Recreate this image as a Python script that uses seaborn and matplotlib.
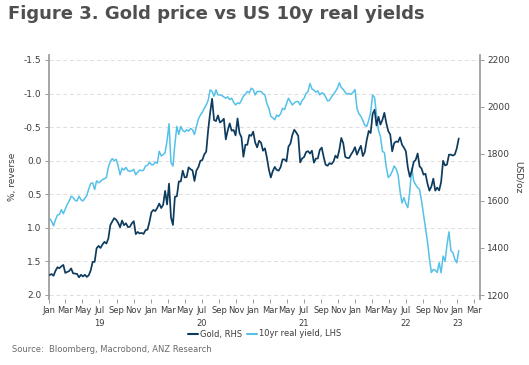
import numpy as np
import pandas as pd
import seaborn as sns
import matplotlib.pyplot as plt
import matplotlib.dates as mdates
from matplotlib.lines import Line2D

# weekly closes, USD/oz
gold_2019 = [1285, 1289, 1282, 1303, 1318, 1314, 1322, 1328, 1294, 1298, 1302, 1313, 1292,
             1291, 1290, 1275, 1286, 1279, 1286, 1277, 1284, 1305, 1341, 1341, 1399, 1409,
             1400, 1415, 1426, 1419, 1440, 1497, 1513, 1527, 1520, 1507, 1488, 1517, 1497,
             1505, 1489, 1490, 1505, 1514, 1459, 1468, 1462, 1464, 1460, 1476, 1478, 1511]
gold_2020 = [1552, 1562, 1557, 1571, 1589, 1570, 1584, 1643, 1585, 1674, 1530, 1498, 1618,
             1620, 1683, 1683, 1729, 1700, 1702, 1743, 1735, 1730, 1685, 1730, 1744, 1771,
             1774, 1798, 1810, 1902, 1975, 2035, 1944, 1940, 1964, 1934, 1940, 1950, 1862,
             1900, 1930, 1899, 1902, 1879, 1951, 1889, 1871, 1788, 1839, 1839, 1881, 1877]
gold_2021 = [1895, 1849, 1828, 1856, 1848, 1814, 1824, 1784, 1734, 1700, 1727, 1745, 1732,
             1729, 1744, 1777, 1777, 1768, 1831, 1844, 1881, 1903, 1891, 1877, 1764, 1781,
             1787, 1808, 1812, 1802, 1814, 1763, 1780, 1781, 1817, 1827, 1787, 1754, 1750,
             1761, 1757, 1767, 1793, 1783, 1818, 1868, 1846, 1788, 1783, 1783, 1798, 1811, 1829]
gold_2022 = [1797, 1817, 1835, 1791, 1808, 1859, 1898, 1889, 1970, 1988, 1921, 1958, 1925,
             1945, 1975, 1931, 1897, 1883, 1811, 1846, 1853, 1851, 1871, 1840, 1827, 1811,
             1742, 1703, 1727, 1766, 1775, 1802, 1747, 1738, 1712, 1716, 1675, 1644, 1661,
             1695, 1644, 1657, 1645, 1681, 1771, 1751, 1755, 1797, 1797, 1793, 1798, 1824]
gold_2023 = [1866]

# US 10y real yield, %
ry_2019 = [0.86, 0.90, 0.97, 0.88, 0.81, 0.80, 0.73, 0.79, 0.72, 0.65, 0.60, 0.53, 0.55,
           0.59, 0.60, 0.53, 0.58, 0.60, 0.56, 0.52, 0.42, 0.34, 0.33, 0.43, 0.30, 0.33,
           0.31, 0.28, 0.27, 0.25, 0.10, 0.01, -0.03, 0.00, -0.02, 0.08, 0.21, 0.11, 0.14,
           0.10, 0.15, 0.16, 0.15, 0.13, 0.21, 0.17, 0.14, 0.15, 0.14, 0.08, 0.07, 0.02]
ry_2020 = [0.06, 0.06, 0.02, 0.04, -0.14, -0.07, -0.09, -0.12, -0.30, -0.55, 0.03, 0.08, -0.25,
           -0.51, -0.39, -0.51, -0.45, -0.43, -0.46, -0.44, -0.48, -0.46, -0.39, -0.51, -0.62,
           -0.68, -0.72, -0.78, -0.83, -0.90, -1.055, -1.03, -0.96, -1.055, -0.98, -0.98, -0.97,
           -0.95, -0.93, -0.95, -0.91, -0.93, -0.87, -0.83, -0.86, -0.85, -0.90, -0.96, -0.99,
           -1.03, -1.01, -1.08]
ry_2021 = [-1.06, -0.98, -1.03, -1.03, -1.03, -1.00, -0.98, -0.85, -0.78, -0.66, -0.64, -0.61,
           -0.68, -0.66, -0.70, -0.78, -0.76, -0.85, -0.93, -0.88, -0.83, -0.86, -0.88, -0.88,
           -0.83, -0.90, -0.93, -1.00, -1.03, -1.15, -1.07, -1.05, -1.02, -1.04, -0.98, -1.01,
           -1.00, -0.95, -0.89, -0.90, -0.95, -0.99, -1.03, -1.08, -1.16, -1.09, -1.06, -1.02,
           -0.99, -1.00, -0.99, -1.02, -1.06]
ry_2022 = [-0.78, -0.70, -0.66, -0.60, -0.53, -0.51, -0.60, -0.72, -0.98, -0.94, -0.68, -0.45,
           -0.36, -0.14, -0.12, 0.10, 0.25, 0.22, 0.16, 0.08, 0.12, 0.21, 0.45, 0.63, 0.55,
           0.64, 0.70, 0.45, 0.11, 0.30, 0.36, 0.40, 0.43, 0.60, 0.80, 1.00, 1.20, 1.45,
           1.665, 1.62, 1.63, 1.665, 1.52, 1.67, 1.42, 1.50, 1.25, 1.06, 1.34, 1.37, 1.47, 1.52]
ry_2023 = [1.34]

gold = gold_2019 + gold_2020 + gold_2021 + gold_2022 + gold_2023
real_yield = ry_2019 + ry_2020 + ry_2021 + ry_2022 + ry_2023
dates = pd.date_range('2019-01-04', periods=len(gold), freq='7D')
df = pd.DataFrame({'date': dates, 'gold': gold, 'real_yield': real_yield})

# year shown under this month
year_label_month = {2019: 7, 2020: 7, 2021: 7, 2022: 7, 2023: 1}

dark = '#0d3b5e'
light = '#55c1e9'
grey_txt = '#3c3c3c'

sns.set_theme(style='white')
plt.rcParams['font.family'] = ['DejaVu Sans']

fig = plt.figure(figsize=(5.29, 3.65), dpi=100)
ax = fig.add_axes([48.5 / 529, 1 - 299 / 365, (480 - 48.5) / 529, (299 - 55) / 365])
ax2 = ax.twinx()

sns.lineplot(data=df, x='date', y='real_yield', ax=ax, color=light, lw=1.1)
sns.lineplot(data=df, x='date', y='gold', ax=ax2, color=dark, lw=1.25)

ax.set_xlim(pd.Timestamp('2018-12-31'), pd.Timestamp('2023-03-23'))
ax.set_ylim(2.06, -1.574)
ax.set_yticks(np.arange(-1.5, 2.01, 0.5))
ax.yaxis.set_major_formatter(plt.FuncFormatter(lambda v, p: f'{v:.1f}'))
ax2.set_ylim(1183, 2221)
ax2.set_yticks(range(1200, 2201, 200))

ax.xaxis.set_major_locator(mdates.MonthLocator(bymonth=[1, 3, 5, 7, 9, 11]))


def fmt_month(v, p):
    d = mdates.num2date(v)
    s = d.strftime('%b')
    if year_label_month.get(d.year) == d.month:
        s += '\n' + d.strftime('%y')
    return s


ax.xaxis.set_major_formatter(plt.FuncFormatter(fmt_month))

ax.yaxis.grid(True, ls=(0, (4, 3)), color='#dddddd', lw=0.7)
ax.xaxis.grid(False)
ax.set_xlabel('')
ax.set_ylabel('%, reverse', fontsize=6.5, color=grey_txt, labelpad=5)
ax2.set_ylabel('USD/oz', fontsize=6.5, color=grey_txt, rotation=270, labelpad=9)

for a in (ax, ax2):
    for s in a.spines.values():
        s.set_visible(False)
ax.spines['left'].set_visible(True)
ax.spines['left'].set_color('#9a9a9a')
ax2.spines['right'].set_visible(True)
ax2.spines['right'].set_color('#9a9a9a')

ax.tick_params(axis='y', length=3, width=0.7, color='#9a9a9a', labelsize=6.5,
               labelcolor=grey_txt, pad=2, left=True)
ax.tick_params(axis='x', length=3, width=0.7, color='#9a9a9a', labelsize=6,
               labelcolor=grey_txt, pad=2, bottom=True)
ax2.tick_params(axis='y', length=3, width=0.7, color='#9a9a9a', labelsize=6.5,
                labelcolor=grey_txt, pad=2, right=True)
for lbl in ax.get_xticklabels():
    lbl.set_linespacing(1.6)

fig.text(0.015, 0.962, 'Figure 3. Gold price vs US 10y real yields', fontsize=13,
         weight='bold', color='#4f4f4f', va='center')

handles = [Line2D([], [], color=dark, lw=1.5), Line2D([], [], color=light, lw=1.5)]
fig.legend(handles, ['Gold, RHS', '10yr real yield, LHS'], loc='center',
           bbox_to_anchor=(0.5, 1 - 334 / 365), ncol=2, frameon=False, fontsize=6,
           handlelength=1.2, handletextpad=0.3, columnspacing=0.5, labelcolor=grey_txt)

fig.text(12 / 529, 1 - 350 / 365, 'Source:  Bloomberg, Macrobond, ANZ Research',
         fontsize=6, color='#6a6a6a', va='center')

fig.savefig('out.png', dpi=100)
